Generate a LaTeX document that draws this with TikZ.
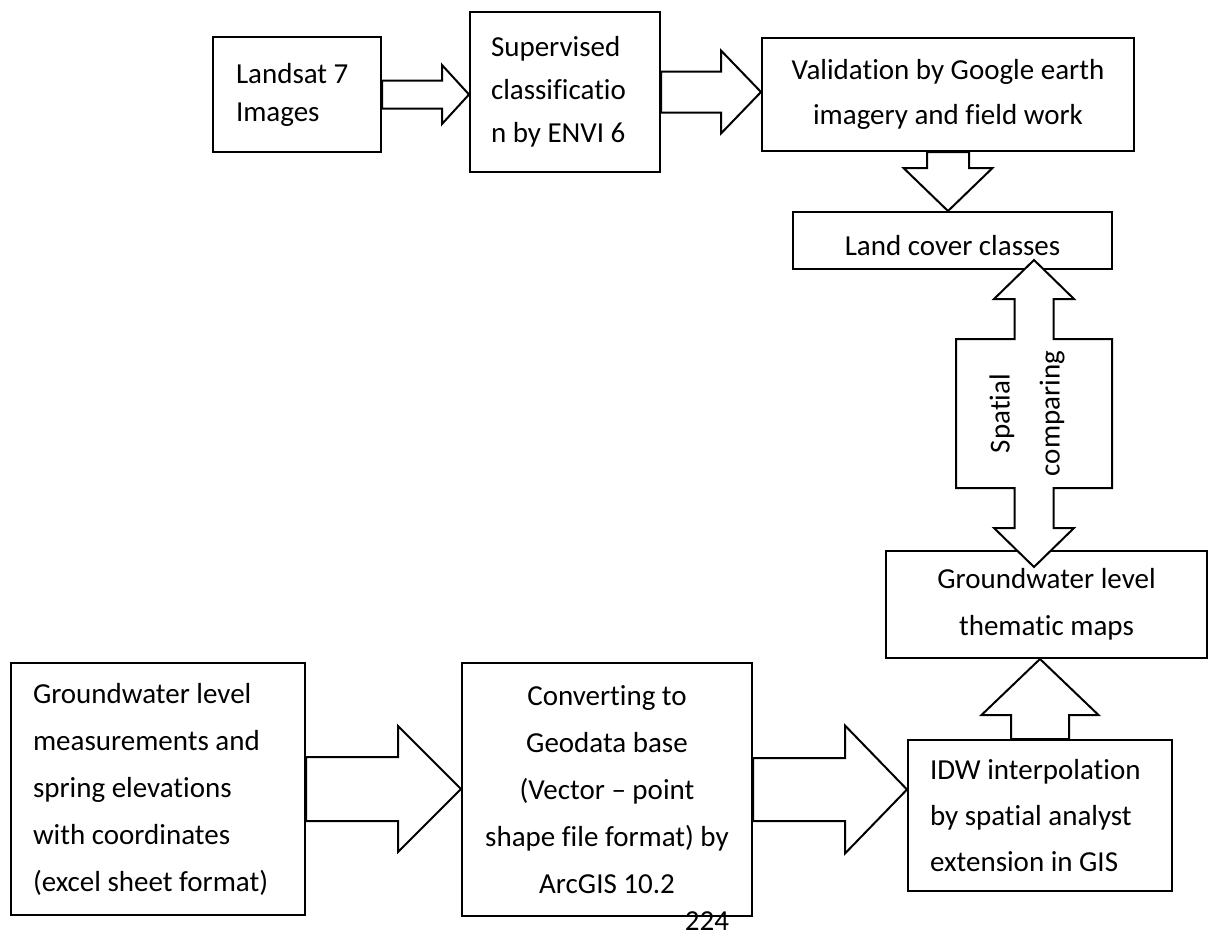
\documentclass[tikz,border=0pt]{standalone}
\usepackage{fontspec}
\setmainfont{Carlito}[Ligatures={TeX,NoCommon}]
\usetikzlibrary{calc}

\tikzset{box/.style={draw,line width=2pt,inner sep=0pt},
  blk/.style={draw,fill=white,line width=2pt}}

% block arrow to the right: tail, tip, half shaft, half head, head length
\newcommand{\rblock}[5]{\draw[blk] let \p1=(#1), \p2=(#2) in
  (\x1,{\y2+#3}) -- ({\x2-#5},{\y2+#3}) -- ({\x2-#5},{\y2+#4}) -- (\p2)
  -- ({\x2-#5},{\y2-#4}) -- ({\x2-#5},{\y2-#3}) -- (\x1,{\y2-#3}) -- cycle;}
% vertical block arrow: head length > 0 points down, < 0 points up
\newcommand{\vblock}[5]{\draw[blk] let \p1=(#1), \p2=(#2) in
  ({\x2-#3},\y1) -- ({\x2-#3},{\y2+(#5)}) -- ({\x2-#4},{\y2+(#5)}) -- (\p2)
  -- ({\x2+#4},{\y2+(#5)}) -- ({\x2+#3},{\y2+(#5)}) -- ({\x2+#3},\y1) -- cycle;}

\begin{document}
\begin{tikzpicture}[x=1pt,y=1pt,font=\fontsize{29}{46}\selectfont]
\useasboundingbox (0,0) rectangle (1208,-938);
% top row
\node[box,inner xsep=23pt,text width=122pt,minimum height=115pt,align=flush left,font=\fontsize{29}{38}\selectfont] (land) at (297,-94.5) {Landsat 7\\Images};
\node[box,inner xsep=21pt,text width=148pt,minimum height=160pt,align=flush left,font=\fontsize{29}{43}\selectfont] (sup) at (565,-92) {Supervised\\classificatio\\n by ENVI 6};
\node[box,minimum width=372pt,minimum height=113pt,align=center,font=\fontsize{29}{45}\selectfont] (val) at (948,-94.5) {Validation by Google earth\\imagery and field work};
\node[box,minimum width=319pt,minimum height=57pt,text height=31pt] (lcc) at (952.5,-240.5) {Land cover classes};
% right column
\node[box,minimum width=321pt,minimum height=107pt,align=center,font=\fontsize{29}{47}\selectfont] (gwm) at (1046.5,-604.5) {Groundwater level\\thematic maps};
\node[box,inner xsep=22pt,text width=220pt,minimum height=151pt,align=flush left] (idw) at (1040,-815.5) {IDW interpolation\\by spatial analyst\\extension in GIS};
% bottom row
\node[box,inner xsep=22pt,text width=250pt,minimum height=252pt,align=flush left,font=\fontsize{29}{47}\selectfont] (meas) at (158,-789) {Groundwater level\\measurements and\\spring elevations\\with coordinates\\(excel sheet format)};
\node[box,minimum width=290pt,minimum height=253pt,align=center,font=\fontsize{29}{47}\selectfont] (conv) at (607,-789.5) {Converting to\\Geodata base\\(Vector – point\\shape file format) by\\ArcGIS 10.2};
\node[inner sep=0pt,anchor=north] (num) at (707,-911) {224};

\rblock{land.east}{sup.west |- land.east}{14}{29.5}{27}
\rblock{sup.east}{val.west |- sup.east}{20.5}{41.5}{40}
\vblock{val.south}{val.south |- lcc.north}{21}{44.5}{43}
\vblock{idw.north}{idw.north |- gwm.south}{29}{58.5}{-56}
\rblock{meas.east}{conv.west |- meas.east}{32}{63}{63}
\rblock{conv.east}{idw.west |- conv.east}{31.5}{64}{62}

% double arrow between land cover and groundwater maps
\coordinate (sc) at (1034,-413.5);
\draw[blk] ([yshift=153.5pt]sc) -- ++(40,-39) -- ++(-20.5,0) -- ++(0,-40) -- ++(58.5,0)
  -- ++(0,-149) -- ++(-58.5,0) -- ++(0,-40) -- ++(20.5,0) -- ++(-40,-39) -- ++(-40,39)
  -- ++(20.5,0) -- ++(0,40) -- ++(-58.5,0) -- ++(0,149) -- ++(58.5,0) -- ++(0,40)
  -- ++(-20.5,0) -- cycle;
\node[rotate=90,align=center,inner sep=0pt,font=\fontsize{29}{50}\selectfont] (cmp) at ([xshift=-7pt]sc) {Spatial\\comparing};
\end{tikzpicture}
\end{document}
